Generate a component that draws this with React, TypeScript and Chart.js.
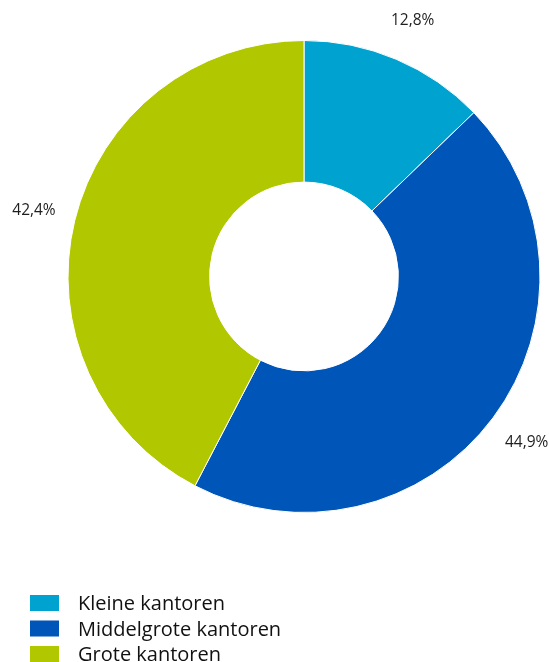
import React, { useEffect, useRef } from "react";
import { Chart, registerables } from "chart.js";

Chart.register(...registerables);

const categories = ["Kleine kantoren", "Middelgrote kantoren", "Grote kantoren"];
const values = [12.8, 44.9, 42.4];
const valueLabels = ["12,8%", "44,9%", "42,4%"];
const colors = ["#00a3cf", "#0055b8", "#b1c800"];

const FONT = "'Open Sans', sans-serif";

const outsideLabels = {
  id: "outsideLabels",
  afterDraw(chart: any) {
    const ctx = chart.ctx;
    const meta = chart.getDatasetMeta(0);
    ctx.save();
    ctx.font = `15.5px ${FONT}`;
    ctx.fillStyle = "#1e1e1e";
    ctx.textAlign = "center";
    ctx.textBaseline = "middle";
    meta.data.forEach((arc: any, i: number) => {
      const p = arc.getProps(["x", "y", "startAngle", "endAngle", "outerRadius"], true);
      const mid = (p.startAngle + p.endAngle) / 2;
      const r = p.outerRadius + 42;
      ctx.fillText(valueLabels[i], p.x + Math.cos(mid) * r, p.y + Math.sin(mid) * r);
    });
    // legend
    ctx.font = `20px ${FONT}`;
    ctx.textAlign = "left";
    ctx.textBaseline = "alphabetic";
    categories.forEach((c, i) => {
      const baseline = 610 + i * 25.5;
      ctx.fillStyle = colors[i];
      ctx.fillRect(30, baseline - 15, 29, 16);
      ctx.fillStyle = "#111111";
      ctx.fillText(c, 78, baseline);
    });
    ctx.restore();
  },
};

export default function App() {
  const ref = useRef<HTMLCanvasElement | null>(null);
  useEffect(() => {
    if (!ref.current) return;
    const chart = new Chart(ref.current, {
      type: "doughnut",
      data: {
        labels: categories,
        datasets: [
          {
            data: values,
            backgroundColor: colors,
            borderColor: "#ffffff",
            borderWidth: 1,
          },
        ],
      },
      options: {
        responsive: false,
        animation: false,
        cutout: "40%",
        layout: { padding: { top: 40, bottom: 149, left: 67, right: 8 } },
        plugins: { legend: { display: false }, tooltip: { enabled: false } },
        events: [],
      },
      plugins: [outsideLabels],
    });
    return () => chart.destroy();
  }, []);
  return (
    <canvas
      ref={ref}
      width={549}
      height={662}
      style={{ position: "absolute", left: 0, top: 0, width: 549, height: 662 }}
    />
  );
}
